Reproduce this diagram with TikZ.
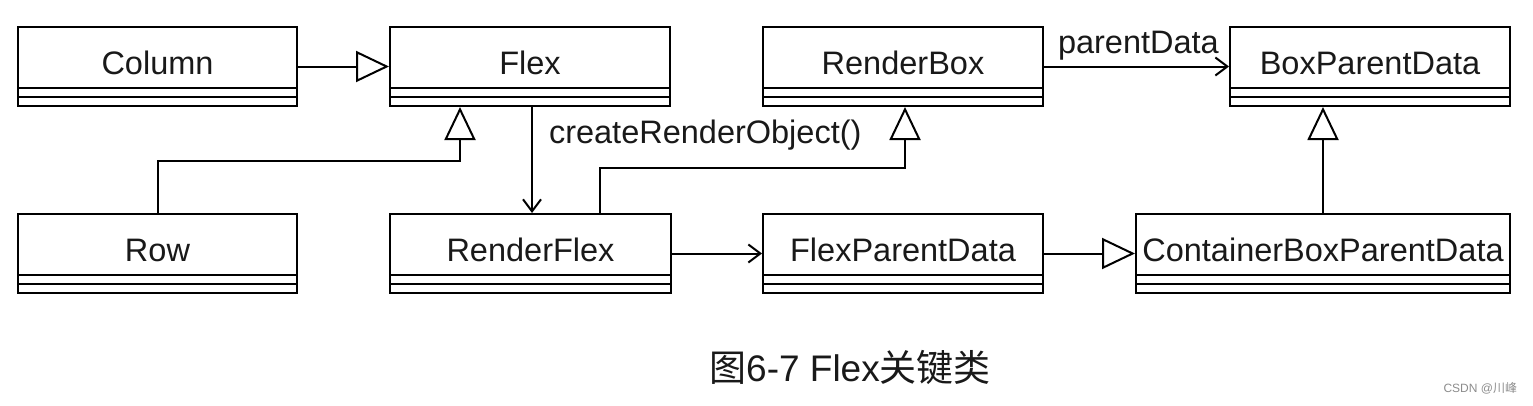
\documentclass[tikz,border=0pt]{standalone}
\usepackage{fontspec}
\setmainfont{Liberation Sans}
\newfontfamily\cjk{Noto Sans CJK SC}
\usetikzlibrary{arrows.meta,calc}
\newcommand\umlbox[5]{%
  \node[cls, minimum width={#3-#2}, minimum height=79pt] (#1) at ({(#2+#3)/2},{#4+39.5}) {};
  \draw[inner] ({#2},{#4+61}) -- ({#3},{#4+61}) ({#2},{#4+70}) -- ({#3},{#4+70});
  \node[lbl] (#1-t) at ({(#2+#3)/2},{#4+47}) {#5};}
\begin{document}
\begin{tikzpicture}[x=1pt,y=-1pt,line width=2pt,
  cls/.style={draw, rectangle, inner sep=0pt},
  inner/.style={line width=1.6pt},
  lbl/.style={font=\fontsize{32.5}{39}\selectfont, text=black!90, anchor=base, inner sep=0pt},
  inh/.style={-{Triangle[open,fill=white,length=33pt,width=31pt]}},
  assoc/.style={-{Straight Barb[length=12pt,width=18pt]}}]
\useasboundingbox (0,0) rectangle (1533,405);
\umlbox{column}{18}{297}{27}{Column}
\umlbox{flex}{390}{670}{27}{Flex}
\umlbox{renderbox}{763}{1043}{27}{RenderBox}
\umlbox{bpd}{1230}{1510}{27}{BoxParentData}
\umlbox{row}{18}{297}{214}{Row}
\umlbox{renderflex}{390}{671}{214}{RenderFlex}
\umlbox{fpd}{763}{1043}{214}{FlexParentData}
\umlbox{container}{1136}{1510}{214}{ContainerBoxParentData}
% connectors
\draw[inh] (column) -- (flex);
\coordinate (rf1) at (460,161);
\draw[inh] (row.north) |- (rf1) -- (rf1 |- flex.south);
\coordinate (fr) at (532,0);
\draw[assoc] (fr |- flex.south) -- (fr |- renderflex.north);
\node[lbl, anchor=base west] (cro) at (548,143) {createRenderObject()};
\coordinate (rr1) at (600,168);
\coordinate (rr2) at (905,168);
\draw[inh] (rr1 |- renderflex.north) -- (rr1) -- (rr2) -- (rr2 |- renderbox.south);
\draw[assoc] (renderflex) -- (fpd);
\draw[inh] (fpd) -- (container);
\draw[inh] (container.north) -- (container.north |- bpd.south);
\draw[assoc] (renderbox) -- (bpd);
\node[lbl, anchor=base west] (pd) at (1057,53) {parentData};
% caption
\node[anchor=base, inner sep=0pt, font=\fontsize{37}{44}\selectfont, text=black!90] (cap) at (850,381) {{\cjk 图}6-7 Flex{\cjk 关键类}};
\node[anchor=base east, inner sep=0pt, font=\fontsize{12}{14}\selectfont, text=black!45] (wm) at (1518,392) {CSDN @{\cjk 川峰}};
\end{tikzpicture}
\end{document}
